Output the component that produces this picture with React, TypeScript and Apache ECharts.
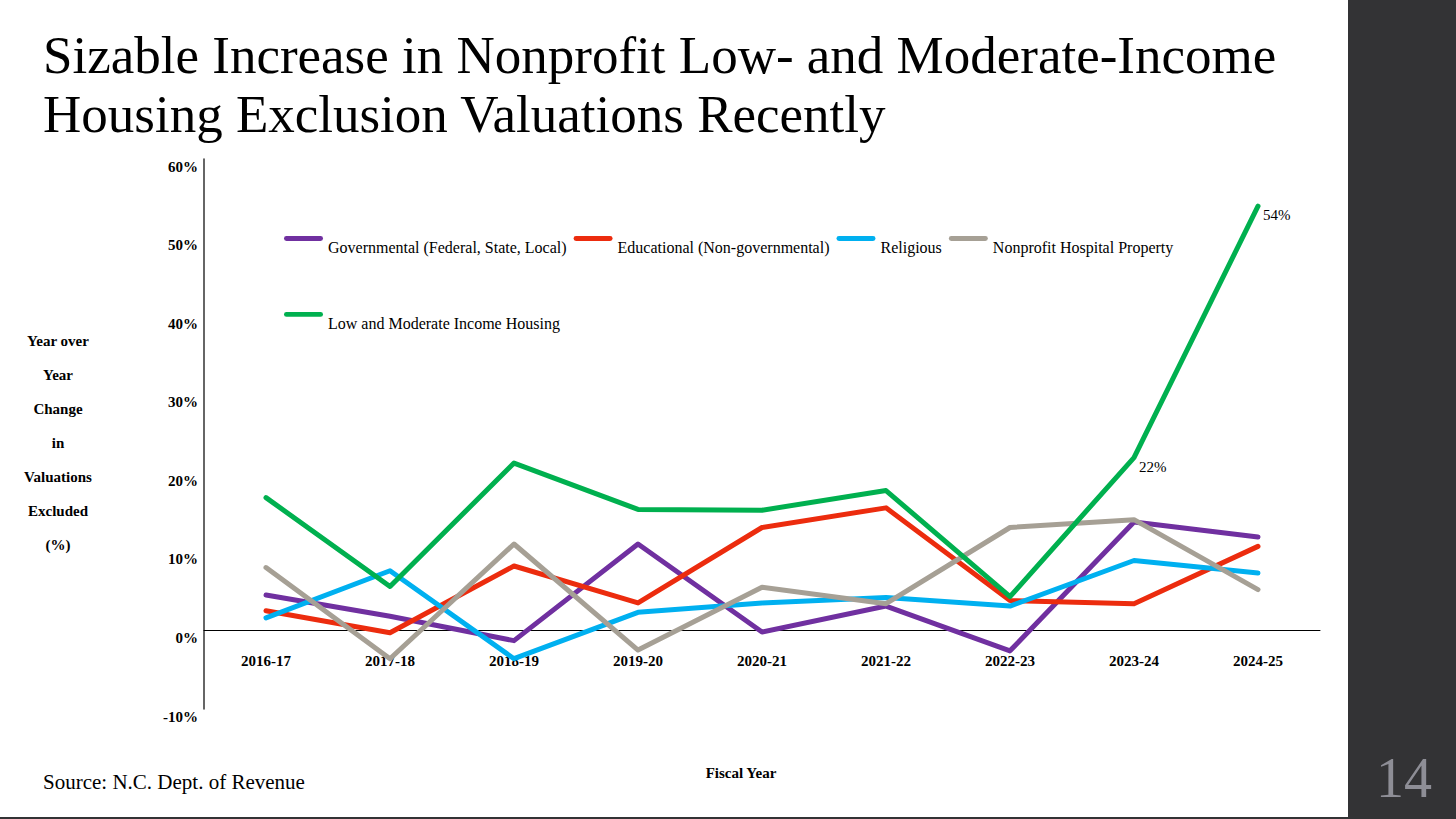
import React, { useEffect, useRef } from "react";
import * as echarts from "echarts";

const categories = ["2016-17", "2017-18", "2018-19", "2019-20", "2020-21", "2021-22", "2022-23", "2023-24", "2024-25"];
const seriesNames = [
  "Governmental (Federal, State, Local)",
  "Educational (Non-governmental)",
  "Religious",
  "Nonprofit Hospital Property",
  "Low and Moderate Income Housing",
];
const governmental = [4.5, 1.8, -1.3, 11.0, -0.2, 3.1, -2.6, 13.8, 11.9];
const educational = [2.5, -0.3, 8.2, 3.5, 13.1, 15.6, 3.8, 3.4, 10.7];
const religious = [1.6, 7.6, -3.6, 2.3, 3.5, 4.2, 3.1, 8.9, 7.3];
const hospital = [8.0, -3.6, 11.0, -2.5, 5.5, 3.4, 13.1, 14.1, 5.2];
const housing = [16.9, 5.6, 21.3, 15.4, 15.3, 17.8, 4.3, 22, 54];
const labeledHousingIdx = [7, 8];
const colors = ["#7030A0", "#EC2C0E", "#00B0F0", "#A6A095", "#00B04F"];

const SERIF = "'Liberation Serif', 'Times New Roman', serif";
// rounded line icon at top of a 40x23 box, so the legend text sits below the line
const LEGEND_ICON = "path://M2.5,0 L37.5,0 A2.5,2.5 0 0 1 37.5,5 L2.5,5 A2.5,2.5 0 0 1 2.5,0 Z M0,23 L0,23";

export default function App() {
  const ref = useRef<HTMLDivElement>(null);
  useEffect(() => {
    if (!ref.current) return;
    const chart = echarts.init(ref.current, null, { renderer: "svg" });
    const values = [governmental, educational, religious, hospital, housing];
    const series = values.map((vals, si) => ({
      name: seriesNames[si],
      type: "line",
      data:
        si === 4
          ? vals.map((v, i) =>
              labeledHousingIdx.includes(i)
                ? {
                    value: v,
                    label: {
                      show: true,
                      position: "right",
                      offset: [0, 9],
                      formatter: "{c}%",
                      fontFamily: SERIF,
                      fontSize: 15,
                      color: "#000",
                    },
                  }
                : v
            )
          : vals,
      symbol: "circle",
      symbolSize: 0,
      showSymbol: true,
      lineStyle: { width: 5, color: colors[si], cap: "round", join: "round" },
      itemStyle: { color: colors[si], borderWidth: 0 },
      label: { show: false },
      emphasis: { disabled: true },
    }));
    const legendBase = {
      left: 284,
      padding: 0,
      itemWidth: 39,
      itemHeight: 23,
      itemGap: 7,
      icon: LEGEND_ICON,
      itemStyle: { borderWidth: 0 },
      textStyle: { fontFamily: SERIF, fontSize: 16, color: "#000" },
      selectedMode: false,
    };
    chart.setOption({
      animation: false,
      backgroundColor: "#ffffff",
      color: colors,
      grid: { left: 204, right: 136, top: 159, bottom: 110 },
      legend: [
        { ...legendBase, top: 236, data: seriesNames.slice(0, 4) },
        { ...legendBase, top: 312, data: seriesNames.slice(4) },
      ],
      xAxis: {
        type: "category",
        data: categories,
        boundaryGap: true,
        position: "bottom",
        offset: -79,
        axisLine: { show: true, onZero: false, lineStyle: { color: "#000", width: 1 } },
        axisTick: { show: false },
        splitLine: { show: false },
        axisLabel: {
          margin: 23,
          fontFamily: SERIF,
          fontWeight: "bold",
          fontSize: 15,
          color: "#000",
        },
      },
      yAxis: {
        type: "value",
        min: -10,
        max: 60,
        interval: 10,
        axisLine: { show: true, lineStyle: { color: "#333", width: 1.5 } },
        axisTick: { show: false },
        splitLine: { show: false },
        axisLabel: {
          formatter: "{value}%",
          margin: 6,
          verticalAlign: "top",
          fontFamily: SERIF,
          fontWeight: "bold",
          fontSize: 15,
          color: "#000",
        },
      },
      graphic: [
        {
          type: "rect",
          shape: { x: 1348, y: 0, width: 108, height: 819 },
          style: { fill: "#333335" },
          silent: true,
        },
        {
          type: "rect",
          shape: { x: 0, y: 817, width: 1456, height: 2 },
          style: { fill: "#333335" },
          silent: true,
        },
        {
          type: "text",
          style: {
            text: "Sizable Increase in Nonprofit Low- and Moderate-Income\nHousing Exclusion Valuations Recently",
            x: 43,
            y: 25,
            font: `53px ${SERIF}`,
            lineHeight: 59,
            fill: "#000",
            textAlign: "left",
            textVerticalAlign: "top",
          },
        },
        {
          type: "text",
          style: {
            text: "Year over\nYear\nChange\nin\nValuations\nExcluded\n(%)",
            x: 58,
            y: 324,
            font: `bold 15px ${SERIF}`,
            lineHeight: 34,
            fill: "#000",
            textAlign: "center",
            textVerticalAlign: "top",
          },
        },
        {
          type: "text",
          style: {
            text: "Fiscal Year",
            x: 741,
            y: 773,
            font: `bold 15px ${SERIF}`,
            fill: "#000",
            textAlign: "center",
            textVerticalAlign: "middle",
          },
        },
        {
          type: "text",
          style: {
            text: "Source: N.C. Dept. of Revenue",
            x: 43,
            y: 782,
            font: `21px ${SERIF}`,
            fill: "#000",
            textAlign: "left",
            textVerticalAlign: "middle",
          },
        },
        {
          type: "text",
          style: {
            text: "14",
            x: 1404,
            y: 778,
            font: `56px ${SERIF}`,
            fill: "#8E8E96",
            textAlign: "center",
            textVerticalAlign: "middle",
          },
        },
      ],
      series,
    });
    return () => chart.dispose();
  }, []);
  return (
    <div
      ref={ref}
      style={{ position: "fixed", left: 0, top: 0, width: 1456, height: 819, background: "#fff" }}
    />
  );
}
